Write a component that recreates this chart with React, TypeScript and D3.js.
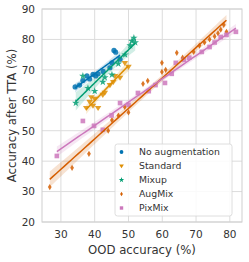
import React from "react";
import * as d3 from "d3";

const seriesNames = ["No augmentation", "Standard", "Mixup", "AugMix", "PixMix"];
const colors = ["#0173b2", "#de8f05", "#029e73", "#d55e00", "#cc78bc"];
const markers = ["circle", "triDown", "star", "thinDiamond", "square"];

const noAugX = [34.2, 35.5, 36.5, 37.7, 38.5, 39.5, 40.3, 41.0, 42.5, 44.5, 45.1, 45.7, 46.2, 47.5];
const noAugY = [64.4, 65.0, 66.5, 68.0, 67.0, 68.5, 68.0, 68.7, 69.5, 70.7, 72.3, 76.4, 75.8, 73.5];

const standardX = [37.5, 38.5, 39.0, 39.5, 40.0, 41.0, 42.4, 43.0, 44.5, 45.5, 46.0, 47.5, 48.9, 50.0];
const standardY = [57.5, 59.5, 61.0, 58.2, 60.5, 57.5, 61.8, 62.5, 65.0, 66.0, 68.0, 67.4, 72.3, 71.0];

const mixupX = [34.4, 36.5, 38.0, 40.0, 42.4, 43.0, 45.1, 47.0, 49.0, 50.5, 51.0, 51.6, 52.0];
const mixupY = [59.1, 68.0, 64.0, 63.0, 66.0, 67.5, 68.4, 72.0, 75.0, 78.0, 79.5, 80.5, 79.0];

const augmixX = [26.7, 33.3, 38.3, 44.0, 45.1, 47.0, 48.9, 50.0, 54.3, 55.7, 59.9, 59.9, 61.0, 64.3, 66.0, 69.3, 71.0, 72.5, 74.0, 75.5, 76.5, 77.3, 78.2, 79.0];
const augmixY = [31.5, 37.8, 42.4, 50.0, 53.5, 55.0, 57.8, 56.0, 65.4, 66.4, 69.3, 72.3, 70.0, 75.6, 74.0, 75.9, 78.0, 79.0, 80.0, 81.0, 82.0, 83.2, 84.8, 82.5];

const pixmixX = [28.8, 36.5, 39.8, 42.4, 45.0, 47.5, 50.0, 52.8, 56.0, 58.0, 60.8, 62.8, 64.0, 66.4, 68.0, 71.7, 74.0, 75.5, 77.3, 79.0, 81.8];
const pixmixY = [41.7, 53.2, 51.6, 50.3, 55.0, 59.1, 58.5, 62.4, 63.0, 65.0, 65.7, 68.7, 72.3, 73.3, 74.0, 75.9, 77.5, 79.0, 80.8, 81.5, 82.5];

const xTicks = [30, 40, 50, 60, 70, 80];
const yTicks = [20, 30, 40, 50, 60, 70, 80, 90];

const seriesX = [noAugX, standardX, mixupX, augmixX, pixmixX];
const seriesY = [noAugY, standardY, mixupY, augmixY, pixmixY];

const W = 249, H = 262;
const left = 42, right = 242, top = 9, bottom = 222;
const FONT = "DejaVu Sans, sans-serif";

function markerPath(kind: string, s: number): string {
  switch (kind) {
    case "circle":
      return d3.symbol(d3.symbolCircle, s * s * Math.PI)()!;
    case "square":
      return d3.symbol(d3.symbolSquare, s * s * 3.2)()!;
    case "star":
      return d3.symbol(d3.symbolStar, s * s * 2.6)()!;
    case "triDown": {
      const r = s * 1.25;
      return `M${-r},${-r * 0.6}L${r},${-r * 0.6}L0,${r * 0.95}Z`;
    }
    case "thinDiamond": {
      const r = s * 1.2;
      return `M0,${-r}L${r * 0.6},0L0,${r}L${-r * 0.6},0Z`;
    }
  }
  return "";
}

function regress(xs: number[], ys: number[]) {
  const n = xs.length;
  const mx = d3.mean(xs)!, my = d3.mean(ys)!;
  let sxx = 0, sxy = 0;
  for (let i = 0; i < n; i++) {
    sxx += (xs[i] - mx) ** 2;
    sxy += (xs[i] - mx) * (ys[i] - my);
  }
  const b = sxy / sxx;
  const a = my - b * mx;
  let sse = 0;
  for (let i = 0; i < n; i++) sse += (ys[i] - (a + b * xs[i])) ** 2;
  const s = Math.sqrt(sse / (n - 2));
  const t = 2.1;
  const [x0, x1] = d3.extent(xs) as [number, number];
  const pts = d3.range(0, 51).map((k) => {
    const x = x0 + ((x1 - x0) * k) / 50;
    const yh = a + b * x;
    const se = s * Math.sqrt(1 / n + (x - mx) ** 2 / sxx);
    return { x, y: yh, lo: yh - t * se, hi: yh + t * se };
  });
  return pts;
}

export default function App() {
  const x = d3.scaleLinear().domain([24.4, 83.6]).range([left, right]);
  const y = d3.scaleLinear().domain([20, 90]).range([bottom, top]);

  const area = d3.area<any>().x((d) => x(d.x)).y0((d) => y(d.lo)).y1((d) => y(d.hi));
  const line = d3.line<any>().x((d) => x(d.x)).y((d) => y(d.y));

  const order = [0, 1, 2, 3, 4];

  return (
    <svg width={W} height={H} style={{ position: "absolute", left: 0, top: 0, background: "#fff" }}>
      <rect x={0} y={0} width={W} height={H} fill="#fff" />
      {xTicks.map((t) => (
        <line key={"gx" + t} x1={x(t)} x2={x(t)} y1={top} y2={bottom} stroke="#dcdcdc" strokeWidth={1} />
      ))}
      {yTicks.map((t) => (
        <line key={"gy" + t} x1={left} x2={right} y1={y(t)} y2={y(t)} stroke="#dcdcdc" strokeWidth={1} />
      ))}
      <rect x={left} y={top} width={right - left} height={bottom - top} fill="none" stroke="#cfcfcf" strokeWidth={1} />

      {order.map((i) => {
        const pts = regress(seriesX[i], seriesY[i]);
        return (
          <g key={"reg" + i}>
            <path d={area(pts)!} fill={colors[i]} fillOpacity={0.18} stroke="none" />
          </g>
        );
      })}
      {order.map((i) => (
        <g key={"pts" + i}>
          {seriesX[i].map((xv, j) => (
            <path
              key={j}
              d={markerPath(markers[i], 2.6)}
              transform={`translate(${x(xv)},${y(seriesY[i][j])})`}
              fill={colors[i]}
              fillOpacity={0.85}
            />
          ))}
        </g>
      ))}
      {order.map((i) => {
        const pts = regress(seriesX[i], seriesY[i]);
        return <path key={"line" + i} d={line(pts)!} fill="none" stroke={colors[i]} strokeWidth={1.5} />;
      })}

      {xTicks.map((t) => (
        <text key={"tx" + t} x={x(t)} y={238} textAnchor="middle" fontFamily={FONT} fontSize={10.5} fill="#333">
          {t}
        </text>
      ))}
      {yTicks.map((t) => (
        <text key={"ty" + t} x={35} y={y(t) + 3.8} textAnchor="end" fontFamily={FONT} fontSize={10.5} fill="#333">
          {t}
        </text>
      ))}
      <text x={(left + right) / 2} y={254} textAnchor="middle" fontFamily={FONT} fontSize={11.7} fill="#333">
        OOD accuracy (%)
      </text>
      <text
        transform={`translate(16,${(top + bottom) / 2}) rotate(-90)`}
        textAnchor="middle"
        fontFamily={FONT}
        fontSize={11.7}
        fill="#333"
      >
        Accuracy after TTA (%)
      </text>

      <g>
        <rect x={115} y={144} width={117} height={72} rx={2.5} fill="#fff" fillOpacity={0.85} stroke="#d6d6d6" strokeWidth={0.8} />
        {seriesNames.map((name, i) => (
          <g key={"leg" + i} transform={`translate(0,${152 + i * 14})`}>
            <path d={markerPath(markers[i], 1.9)} transform="translate(121.5,0)" fill={colors[i]} />
            <text x={139} y={3.3} fontFamily={FONT} fontSize={9.3} fill="#333">
              {name}
            </text>
          </g>
        ))}
      </g>
    </svg>
  );
}
